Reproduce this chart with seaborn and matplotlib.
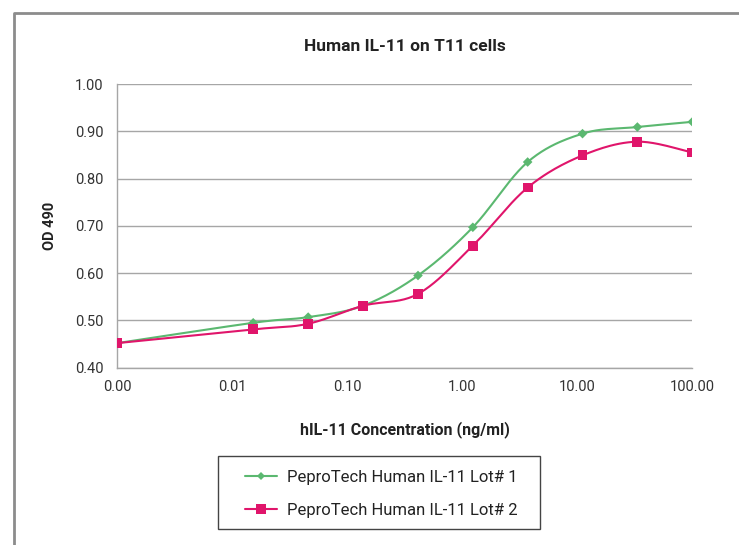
import numpy as np
import pandas as pd
import matplotlib
matplotlib.use("Agg")
import matplotlib.pyplot as plt
from matplotlib.lines import Line2D
from matplotlib.patches import Rectangle
import seaborn as sns

# ---- data ----
concentration = [0.001, 0.0152, 0.0457, 0.137, 0.412, 1.235, 3.70, 11.1, 33.3, 100.0]
lot1 = [0.452, 0.495, 0.507, 0.531, 0.595, 0.697, 0.835, 0.895, 0.909, 0.920]
lot2 = [0.452, 0.481, 0.493, 0.531, 0.556, 0.658, 0.781, 0.849, 0.878, 0.855]
series_names = ["PeproTech Human IL-11 Lot# 1", "PeproTech Human IL-11 Lot# 2"]
y_ticks = [0.40, 0.50, 0.60, 0.70, 0.80, 0.90, 1.00]
x_ticks = [0.001, 0.01, 0.1, 1, 10, 100]
x_tick_labels = ["0.00", "0.01", "0.10", "1.00", "10.00", "100.00"]
title = "Human IL-11 on T11 cells"
xlabel = "hIL-11 Concentration (ng/ml)"
ylabel = "OD 490"

GREEN = "#5BB870"
MAGENTA = "#E0156B"

sns.set_style("white")
plt.rcParams['font.family'] = ['Roboto', 'DejaVu Sans']

df = pd.DataFrame({
    "conc": concentration * 2,
    "od": lot1 + lot2,
    "series": [series_names[0]] * len(lot1) + [series_names[1]] * len(lot2),
})

fig = plt.figure(figsize=(7.39, 5.45), dpi=100)
ax = fig.add_axes([117.3 / 739, 1 - 367.7 / 545, 575 / 739, (367.7 - 84) / 545])
ax.set_xscale("log")


def smooth(xs, ys, n=24):
    # Catmull-Rom style smoothing (like spreadsheet smoothed lines) in log-x space
    lx = np.log10(np.asarray(xs, float))
    yy = np.asarray(ys, float)
    P = np.column_stack([lx, yy])
    out = []
    for i in range(len(P) - 1):
        p0 = P[i - 1] if i > 0 else P[i]
        p1 = P[i]
        p2 = P[i + 1]
        p3 = P[i + 2] if i + 2 < len(P) else P[i + 1]
        c1 = p1 + (p2 - p0) / 6.0
        c2 = p2 - (p3 - p1) / 6.0
        t = np.linspace(0, 1, n, endpoint=(i == len(P) - 2))[:, None]
        seg = ((1 - t) ** 3) * p1 + 3 * ((1 - t) ** 2) * t * c1 + 3 * (1 - t) * t ** 2 * c2 + t ** 3 * p2
        out.append(seg)
    out = np.vstack(out)
    return 10 ** out[:, 0], out[:, 1]


for name, vals, col in [(series_names[0], lot1, GREEN), (series_names[1], lot2, MAGENTA)]:
    sx, sy = smooth(concentration, vals)
    ax.plot(sx, sy, color=col, lw=1.5, zorder=3)

sns.scatterplot(data=df, x="conc", y="od", hue="series", style="series",
                markers={series_names[0]: "D", series_names[1]: "s"},
                palette={series_names[0]: GREEN, series_names[1]: MAGENTA},
                size="series", sizes={series_names[0]: 24, series_names[1]: 50},
                linewidth=0, ax=ax, legend=False, zorder=4)

ax.set_xlim(0.001, 100)
ax.set_ylim(0.40, 1.00)
ax.set_xticks(x_ticks)
ax.set_xticklabels(x_tick_labels)
ax.minorticks_off()
ax.set_yticks(y_ticks)
ax.set_yticklabels([f"{v:.2f}" for v in y_ticks])
ax.yaxis.grid(True, color="#A6A6A6", lw=1.0)
ax.xaxis.grid(False)
for s in ["top", "right"]:
    ax.spines[s].set_visible(False)
for s in ["left", "bottom"]:
    ax.spines[s].set_color("#A6A6A6")
    ax.spines[s].set_linewidth(1.0)
ax.tick_params(axis="both", which="major", direction="out", length=4, width=1,
               color="#A6A6A6", labelsize=10.5, labelcolor="#333333")
ax.tick_params(axis="y", pad=6)
ax.tick_params(axis="x", pad=5)
ax.set_xlabel(xlabel, fontsize=11.5, fontweight="bold", color="#222222", labelpad=19)
ax.set_ylabel(ylabel, fontsize=10.5, fontweight="bold", color="#222222", labelpad=13)
ax.set_title(title, fontsize=12.5, fontweight="bold", color="#222222", pad=24)

handles = [
    Line2D([], [], color=GREEN, lw=1.5, marker="D", markersize=4.5, markeredgewidth=0),
    Line2D([], [], color=MAGENTA, lw=1.5, marker="s", markersize=6.5, markeredgewidth=0),
]
leg = fig.legend(handles, series_names, loc="upper left",
                 bbox_to_anchor=(245 / 739, 1 - 470 / 545),
                 fontsize=12, frameon=False,
                 handlelength=1.9, borderpad=0, labelspacing=1.05, handletextpad=0.6,
                 borderaxespad=0)
for t in leg.get_texts():
    t.set_color("#222222")
fig.add_artist(Rectangle((218 / 739, 1 - 529 / 545), (540 - 218) / 739, (529 - 456) / 545,
                         transform=fig.transFigure, fill=False, edgecolor="#444444", lw=1.0))

# outer frame
fig.add_artist(Line2D([14 / 739, 14 / 739, 1.0], [0.0, 1 - 13 / 545, 1 - 13 / 545],
                      transform=fig.transFigure, color="#8C8C8C", lw=2))

fig.savefig("out.png", dpi=100)
